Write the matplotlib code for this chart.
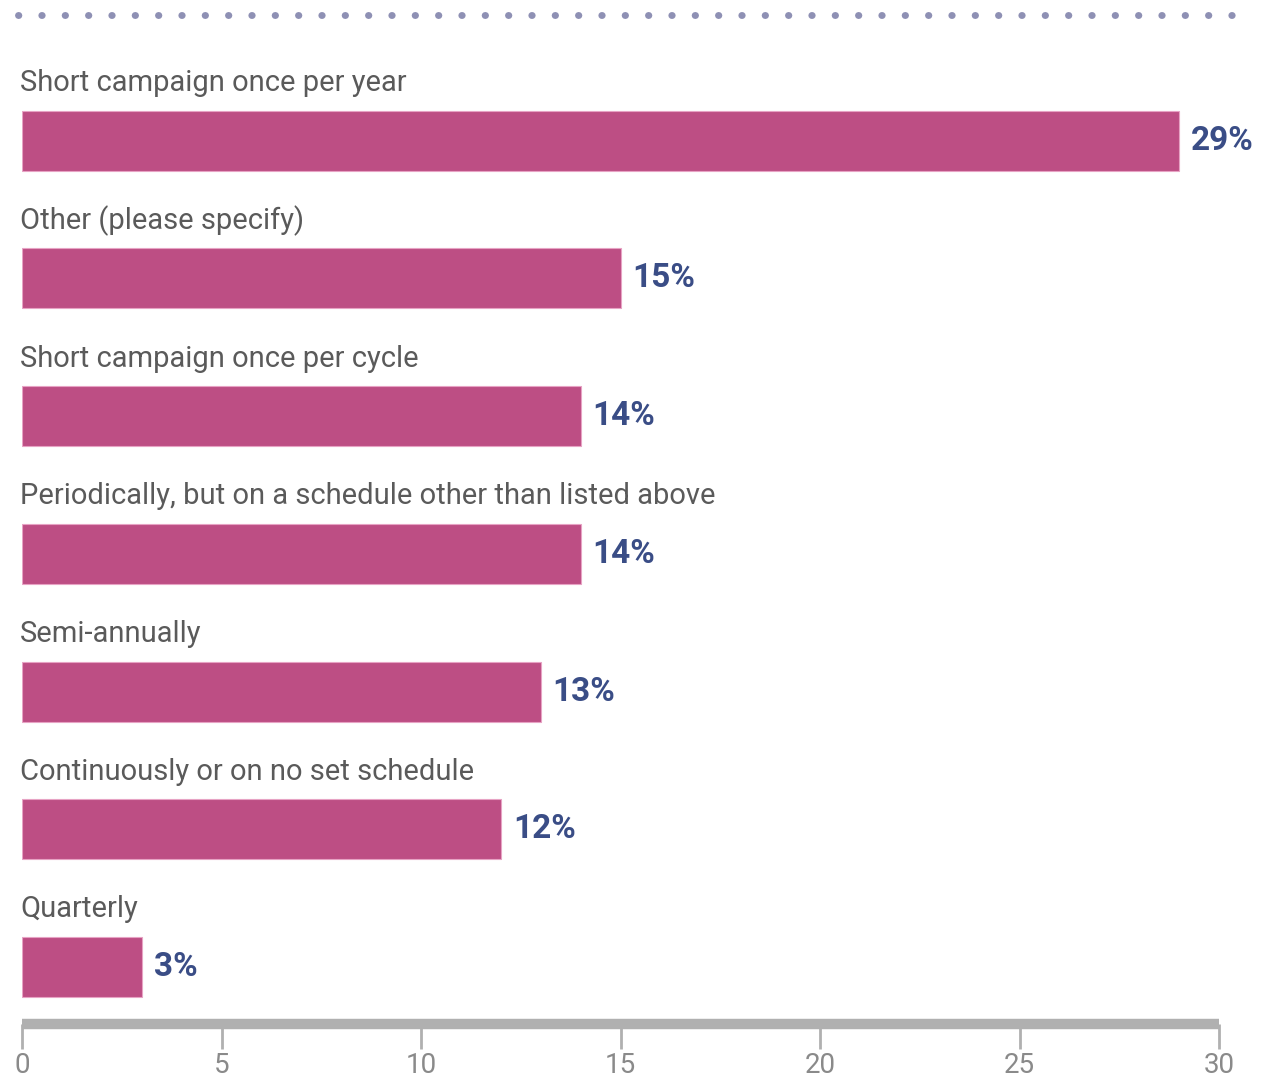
import matplotlib
matplotlib.use("Agg")
import matplotlib.pyplot as plt
from matplotlib.lines import Line2D

categories = [
    "Short campaign once per year",
    "Other (please specify)",
    "Short campaign once per cycle",
    "Periodically, but on a schedule other than listed above",
    "Semi-annually",
    "Continuously or on no set schedule",
    "Quarterly",
]
values = [29, 15, 14, 14, 13, 12, 3]
value_labels = ["29%", "15%", "14%", "14%", "13%", "12%", "3%"]
x_ticks = [0, 5, 10, 15, 20, 25, 30]

BAR_COLOR = "#bd4e84"
VALUE_COLOR = "#3a4d86"
LABEL_COLOR = "#5a5a5a"
AXIS_COLOR = "#b0b0b0"
FONT = ["Roboto", "DejaVu Sans"]

W, H = 1274, 1082
fig = plt.figure(figsize=(W / 100, H / 100), dpi=100)

# axes from the grey axis bar (y=1024) up to y=58
left, right = 22 / W, 1219 / W
bottom, top = (H - 1024) / H, (H - 58) / H
ax = fig.add_axes([left, bottom, right - left, top - bottom])

bar_h = 0.436
ypos = list(range(len(categories)))
ax.barh(ypos, values, height=bar_h, color=BAR_COLOR, edgecolor="#e7a3c4", linewidth=0.8)

for y, cat, v, lab in zip(ypos, categories, values, value_labels):
    ax.text(-0.05, y - bar_h / 2 - 0.2, cat, ha="left", va="center",
            fontsize=21, color=LABEL_COLOR, family=FONT)
    ax.text(v + 0.3, y, lab, ha="left", va="center", fontsize=24,
            fontweight="bold", color=VALUE_COLOR, family=FONT)

ax.set_xlim(0, 30)
ax.set_ylim(6.414, -0.6)
ax.set_yticks([])
ax.set_xticks(x_ticks)
ax.set_xticklabels([str(t) for t in x_ticks], fontsize=20, color="#8a8a8a", family=FONT)
ax.tick_params(axis="x", length=18, width=2, color=AXIS_COLOR, pad=2)
for s in ["top", "right", "left"]:
    ax.spines[s].set_visible(False)
ax.spines["bottom"].set_color(AXIS_COLOR)
ax.spines["bottom"].set_linewidth(7.5)
ax.spines["bottom"].set_capstyle("butt")

# dotted rule at the top
fig.add_artist(Line2D([18 / W, 1246 / W], [1 - 15 / H, 1 - 15 / H],
                      color="#8e90b4", linewidth=5, linestyle=(0, (0.05, 3.31)),
                      dash_capstyle="round"))

fig.savefig("out.png", dpi=100)
